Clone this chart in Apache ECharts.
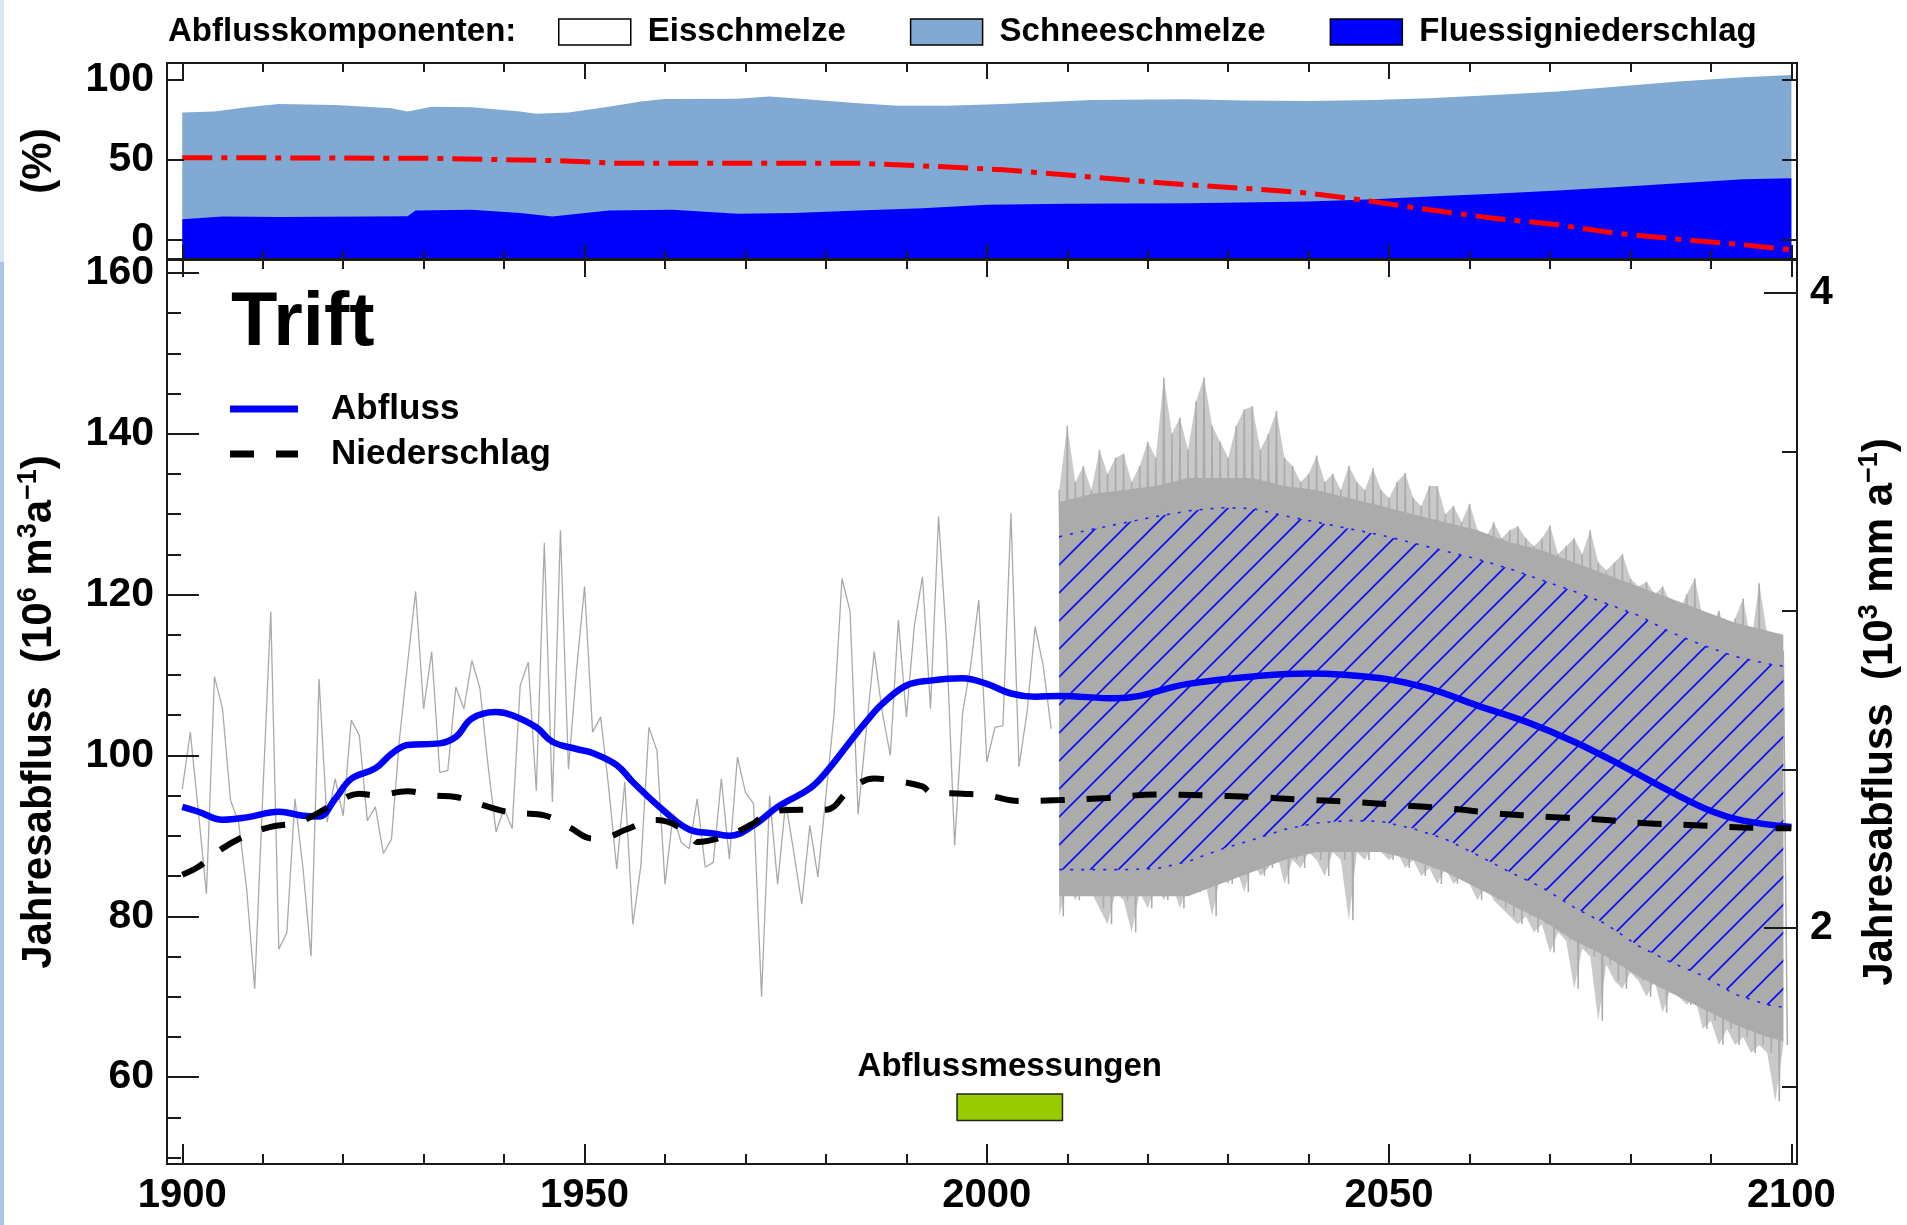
<!DOCTYPE html>
<html><head><meta charset="utf-8">
<script src="https://cdn.jsdelivr.net/npm/echarts@6/dist/echarts.min.js"></script>
<style>html,body{margin:0;padding:0;background:#fff}#c{width:1907px;height:1225px}</style>
</head><body><div id="c"></div><script>
// ---------------- DATA ----------------
const xTicksMinor = [1900,1910,1920,1930,1940,1950,1960,1970,1980,1990,2000,2010,2020,2030,2040,2050,2060,2070,2080,2090,2100];
const xTicksMajor = [1900,1950,2000,2050,2100];
const shareTicks = [0,50,100];
const leftTicksMajor = [60,80,100,120,140,160];
const leftTicksMinor = [50,55,60,65,70,75,80,85,90,95,100,105,110,115,120,125,130,135,140,145,150,155,160];
const rightTicksMajor = [2,4];
const rightTicksMinor = [1.5,2.5,3,3.5];

// top panel: runoff components (%)
const lightYears = [1900,1904,1908,1912,1919,1926,1928,1931,1936,1942,1944,1948,1953,1957,1960,1969,1973,1976,1984,1989,1995,2002,2013,2025,2032,2040,2048,2055,2063,2071,2078,2086,2094,2100];
const lightTop = [79.6,80.2,82.9,85,84.4,82.3,80.2,83.3,82.9,80.2,78.8,79.6,83.3,86.5,88.1,88.3,89.6,88.5,85.4,83.8,83.8,85,87.5,87.9,87.1,86.9,87.5,88.5,90.6,92.7,95.8,99,101.7,103.1];
const darkYears = [1900,1905,1912,1923,1928,1929,1936,1942,1946,1953,1961,1969,1976,1984,1992,2000,2010,2025,2040,2048,2055,2063,2071,2078,2086,2094,2100];
const darkTop = [12.9,14.6,14.2,14.6,14.8,18.3,18.8,16.7,14.6,18.3,18.8,16.3,16.7,18.3,19.8,21.9,22.5,22.9,24,25.4,27.1,28.75,30.8,32.9,35.4,37.9,38.5];
const redYears = [1900,1931,1946,1954,1984,1994,2002,2010,2017,2025,2033,2040,2048,2055,2063,2071,2078,2086,2094,2100];
const redShare = [51.4,51,49.6,47.9,47.9,45.8,43.8,40.6,37.5,34.4,31.9,29.2,24,18.75,13.5,9.4,4.2,0.4,-3.1,-6.25];

// main panel: annual runoff 1900-2008 (10^6 m3/a)
const histStart = 1900;
const histFlow = [
 95.8,102.9,93,82.8,109.8,105.8,94.4,91.7,83.4,71,
 95,117.9,75.9,78,94.6,86,75,109.5,91.7,97.1,
 92.5,104.4,102.5,91.9,93.6,87.8,89.6,102.1,111.4,120.4,
 105.8,112.9,97.9,98.1,108.5,105.8,111.8,108.3,98.8,90.5,
 93.4,90.9,108.7,111.6,95.6,126.4,94.2,128,98.3,110.6,
 121,102.9,104.8,96,85.9,96.7,79,86.3,103.5,100.6,
 84,92.7,89.2,88.4,94.6,86.1,86.7,97.1,87.1,99.8,
 95.4,94,70,95,84,94.2,88,81.5,91.3,84.9,
 95,105,122,117.9,92.7,103,112.9,105.4,100,116.8,
 104.8,116.2,122.2,105.8,129.7,114.1,88.8,105.4,111.2,119.3,
 99.2,103.5,103.7,130.1,98.6,105.4,116,111.2,103.3];

// scenario ensemble 2009-2099: annual extremes
const ensStart = 2009;
const ensUpper = [
 133,141,134,136,133,138,135,137,137.5,134,
 136,139,137,147,140,142,138,144,147,141,
 139,137,141,143,143.4,138,140,142.8,137,136,
 134,135,137.3,134,135,133,136,134,133,135.7,
 133,132,134,135.1,132,131,133.5,133.5,130,131,
 129,131.3,128,127,129,127,128,128.5,127,126,
 127,128.6,125,126,127,125,128,124,123,124,
 125,122,121,121.6,120,121,119,118,120,122,
 117,116,118,115,117,119.5,114,121.4,115,114,
 113];
const ensLower = [
 80,84,82,84,83,81,79,83,82,78,
 83,81,84,82,84,81,84,83,85,80,
 85,84,86,83,87,85,86,88,84,87,
 86,88,87,85,88,87,79.5,88,87,89,
 88,87,88,86,87,85,86,84,86,84,
 85,84,82,84,82,81,80,79,80,78,
 79,75.5,78,77,71,76,75,67,74,72,
 71,73,72,70,72,68,71,70,69,70,
 66,67,64,66,64,65,63,64,63,57,
 64];

// hatched uncertainty band + dense core of the ensemble
const hatchYears = [2009,2013,2017,2021,2025,2029,2033,2037,2041,2045,2049,2053,2057,2061,2065,2069,2073,2077,2081,2085,2089,2093,2097,2099];
const hatchUpper = [127.2,128.1,128.9,129.7,130.4,130.8,130.7,129.8,129.0,128.2,127.4,126.4,125.4,124.4,123.2,121.8,120.4,118.9,117.4,115.3,113.7,112.3,111.4,111.1];
const hatchLower = [85.8,85.8,85.8,85.9,86.8,88.3,89.5,90.8,91.6,91.9,91.8,90.9,89.6,87.6,85.5,83.6,81.1,79,76.3,74.3,72.6,70.3,69.0,68.7];
const denseUpper = [131.5,132.5,133,133.5,134.5,134.5,134.5,133.5,133,132,131,130,129,128,126.5,125.5,124,122.5,121,119.5,118,116.5,115.5,115];
const denseLower = [82.5,82.5,82.5,82.5,82.5,84,85.5,87,88,88,88,87,85.5,83.5,81.5,79.5,77,75,72.5,70.5,68.5,66.5,65,64.5];

// smoothed runoff (10^6 m3/a)
const flowYears = [1900,1902,1905,1908,1912,1915,1917,1919,1921,1924,1926,1928,1932,1934,1936,1939,1941,1944,1946,1949,1951,1954,1956,1960,1963,1966,1968,1971,1974,1978,1980,1983,1985,1987,1990,1993,1997,2000,2003,2006,2009,2016,2025,2034,2040,2049,2055,2061,2067,2073,2079,2085,2090,2094,2100];
const flowSmooth = [93.6,93,92,92.3,93,92.5,92.4,94.6,97.1,98.4,100.2,101.3,101.5,102.3,104.6,105.4,105,103.5,101.7,100.8,100.3,98.8,96.7,93,90.8,90.3,90,91.3,93.6,95.9,97.9,101.7,104.2,106.4,108.7,109.3,109.6,108.9,107.7,107.3,107.4,107.1,108.9,109.9,110.2,109.6,108.3,106.2,104.2,101.7,98.7,95.5,93.1,91.9,91.1];

// smoothed precipitation (10^3 mm/a)
const precYears = [1900,1902,1905,1908,1911,1914,1916,1919,1922,1924,1928,1931,1934,1936,1940,1942,1945,1948,1951,1953,1955,1959,1963,1964,1968,1971,1973,1977,1980,1983,1986,1988,1992,1993,1997,2000,2004,2009,2015,2021,2027,2033,2039,2045,2051,2058,2063,2070,2076,2082,2088,2094,2100];
const precSmooth = [2.168,2.193,2.251,2.292,2.319,2.330,2.350,2.393,2.423,2.418,2.431,2.418,2.413,2.398,2.368,2.362,2.355,2.319,2.282,2.287,2.309,2.340,2.299,2.271,2.294,2.330,2.365,2.373,2.373,2.436,2.471,2.466,2.446,2.428,2.423,2.418,2.400,2.403,2.410,2.421,2.418,2.413,2.405,2.398,2.388,2.375,2.362,2.350,2.342,2.330,2.324,2.317,2.314];

// measurement period
const measYears = [1996.3, 2009.4];
const measRange = [54.6, 57.9];

// ---------------- CHART ----------------
const FONT = '"Liberation Sans", Arial, Helvetica, sans-serif';
const XMIN = 1898.1, XMAX = 2100.7;
const AX = '#1a1a1a';
const GRAY = '#ababab';

function xAx(grid, pos, ticks, len, labels) {
  return {
    type: 'value', gridIndex: grid, position: pos, min: XMIN, max: XMAX, z: 10,
    axisLine: { show: true, onZero: false, lineStyle: { color: AX, width: 2 } },
    axisTick: { show: true, inside: true, length: len, customValues: ticks, lineStyle: { color: AX, width: 2 } },
    axisLabel: labels ? { show: true, customValues: labels, margin: 12, fontSize: 40, fontWeight: 'bold', color: '#000', fontFamily: FONT,
      formatter: function (v) { return String(Math.round(v)); } } : { show: false },
    splitLine: { show: false }
  };
}
function yAx(grid, pos, min, max, ticks, len, labels, extra) {
  return Object.assign({
    type: 'value', gridIndex: grid, position: pos, min: min, max: max, z: 10,
    axisLine: { show: true, onZero: false, lineStyle: { color: AX, width: 2 } },
    axisTick: { show: true, inside: true, length: len, customValues: ticks, lineStyle: { color: AX, width: 2 } },
    axisLabel: labels ? { show: true, customValues: labels, margin: 13, fontSize: 41, fontWeight: 'bold', color: '#000', fontFamily: FONT,
      formatter: function (v) { return String(v); } } : { show: false },
    splitLine: { show: false }
  }, extra || {});
}

function hatchCanvas() {
  const s = 28, c = document.createElement('canvas');
  c.width = s; c.height = s;
  const g = c.getContext('2d');
  g.strokeStyle = '#0a0aff'; g.lineWidth = 1.6;
  g.beginPath();
  g.moveTo(-2, s + 2); g.lineTo(s + 2, -2);
  g.moveTo(-2, 2); g.lineTo(2, -2);
  g.moveTo(s - 2, s + 2); g.lineTo(s + 2, s - 2);
  g.stroke();
  return c;
}
const hatch = hatchCanvas();

const nameRich = {
  t: { fontSize: 42, fontWeight: 'bold', fontFamily: FONT, color: '#000', lineHeight: 48 },
  s: { fontSize: 27, fontWeight: 'bold', fontFamily: FONT, color: '#000', verticalAlign: 'top', lineHeight: 20 }
};

const chart = echarts.init(document.getElementById('c'), null, { renderer: 'canvas' });
const pairs = (xs, ys) => xs.map((x, i) => [x, ys[i]]);
// zigzag through annual extremes of the ensemble (thin spikes)
const ensZigzag = [];
ensUpper.forEach((v, i) => { ensZigzag.push([ensStart + i, v]); ensZigzag.push([ensStart + i + 0.5, ensLower[i]]); });

function bandPolygon(xs, up, lo, style) {
  return function (params, api) {
    const pts = [];
    up.forEach((v, i) => pts.push(api.coord([xs[i], v])));
    for (let i = lo.length - 1; i >= 0; i--) pts.push(api.coord([xs[i], lo[i]]));
    return { type: 'polygon', shape: { points: pts }, style: style };
  };
}
const ensX = ensUpper.map((v, i) => ensStart + i);

chart.setOption({
  animation: false,
  backgroundColor: '#fff',
  textStyle: { fontFamily: FONT },
  graphic: [
    { type: 'rect', left: 0, top: 0, shape: { width: 4, height: 262 }, style: { fill: '#dbe5f2' }, silent: true },
    { type: 'rect', left: 0, top: 262, shape: { width: 4, height: 963 }, style: { fill: '#a9c4e4' }, silent: true }
  ],
  title: [
    { text: 'Abflusskomponenten:', left: 168, top: 15, padding: 0, textStyle: { fontSize: 33, fontWeight: 'bold', color: '#000', lineHeight: 34, fontFamily: FONT } },
    { text: 'Trift', left: 231, top: 286, padding: 0, textStyle: { fontSize: 76, fontWeight: 'bold', color: '#000', lineHeight: 76, fontFamily: FONT } }
  ],
  legend: [
    { left: 558, top: 15, padding: 0, itemWidth: 72, itemHeight: 26, itemGap: 64, selectedMode: false,
      textStyle: { fontSize: 33, fontWeight: 'bold', color: '#000', lineHeight: 34, padding: [0, 0, 0, 12], fontFamily: FONT },
      data: [
        { name: 'Eisschmelze', icon: 'rect', itemStyle: { color: '#ffffff', borderColor: '#000', borderWidth: 1.5 } },
        { name: 'Schneeschmelze', icon: 'rect', itemStyle: { color: '#80a9d3', borderColor: '#000', borderWidth: 1.5 } },
        { name: 'Fluessigniederschlag', icon: 'rect', itemStyle: { color: '#0000ff', borderColor: '#000', borderWidth: 1.5 } }
      ] },
    { left: 230, top: 391, padding: 0, orient: 'vertical', itemWidth: 68, itemHeight: 7, itemGap: 9, selectedMode: false,
      textStyle: { fontSize: 35, fontWeight: 'bold', color: '#000', lineHeight: 36, padding: [0, 0, 0, 28], fontFamily: FONT },
      data: [
        { name: 'Abfluss', icon: 'path://M0,0H68V7H0Z', itemStyle: { color: '#0000ff', borderWidth: 0 } },
        { name: 'Niederschlag', icon: 'path://M0,0H24V7H0Z M46,0H68V7H46Z', itemStyle: { color: '#000000', borderWidth: 0 } }
      ] }
  ],
  grid: [
    { left: 167, right: 110, top: 63, bottom: 966, containLabel: false, outerBoundsMode: 'none' },
    { left: 167, right: 110, top: 260, bottom: 61, containLabel: false, outerBoundsMode: 'none' }
  ],
  xAxis: [
    xAx(0, 'bottom', xTicksMinor, 8, null),
    xAx(0, 'bottom', xTicksMajor, 14, null),
    xAx(0, 'top', xTicksMinor, 9, null),
    xAx(0, 'top', xTicksMajor, 16, null),
    xAx(1, 'bottom', xTicksMinor, 10, null),
    xAx(1, 'bottom', xTicksMajor, 20, xTicksMajor),
    xAx(1, 'top', xTicksMinor, 9, null),
    xAx(1, 'top', xTicksMajor, 17, null)
  ],
  yAxis: [
    yAx(0, 'left', -12, 110.6, shareTicks, 17, shareTicks, {
      name: '(%)', nameLocation: 'middle', nameGap: 104, nameRotate: 90,
      nameTextStyle: { fontSize: 42, fontWeight: 'bold', color: '#000', lineHeight: 48, fontFamily: FONT } }),
    yAx(0, 'right', -12, 110.6, shareTicks, 15, null),
    yAx(1, 'left', 49.2, 161.6, leftTicksMajor, 32, leftTicksMajor, {
      name: '{t|Jahresabfluss  (10}{s|6}{t| m}{s|3}{t|a}{s|\u22121}{t|)}',
      nameLocation: 'middle', nameGap: 104, nameRotate: 90,
      nameTextStyle: { fontSize: 42, fontWeight: 'bold', color: '#000', lineHeight: 48, rich: nameRich } }),
    yAx(1, 'left', 49.2, 161.6, leftTicksMinor, 14, null),
    yAx(1, 'right', 1.257, 4.104, rightTicksMajor, 33, rightTicksMajor, {
      name: '{t|Jahresabfluss  (10}{s|3}{t| mm a}{s|\u22121}{t|)}',
      nameLocation: 'middle', nameGap: 59, nameRotate: 90,
      nameTextStyle: { fontSize: 42, fontWeight: 'bold', color: '#000', lineHeight: 48, rich: nameRich } }),
    yAx(1, 'right', 1.257, 4.104, rightTicksMinor, 15, null)
  ],
  series: [
    // ---- top panel ----
    { name: 'Schneeschmelze', type: 'line', xAxisIndex: 0, yAxisIndex: 0, symbol: 'none', silent: true,
      data: pairs(lightYears, lightTop), itemStyle: { color: '#80a9d3' },
      lineStyle: { width: 0, color: '#80a9d3' }, areaStyle: { origin: 'start', color: '#80a9d3', opacity: 1 } },
    { name: 'Fluessigniederschlag', type: 'line', xAxisIndex: 0, yAxisIndex: 0, symbol: 'none', silent: true,
      data: pairs(darkYears, darkTop), itemStyle: { color: '#0000ff' },
      lineStyle: { width: 0, color: '#0000ff' }, areaStyle: { origin: 'start', color: '#0000ff', opacity: 1 } },
    { name: 'Eisschmelze', type: 'line', xAxisIndex: 0, yAxisIndex: 0, symbol: 'none', silent: true,
      data: [], itemStyle: { color: '#ffffff' } },
    { name: 'Eisanteil', type: 'line', xAxisIndex: 0, yAxisIndex: 0, symbol: 'none', silent: true, z: 3,
      data: pairs(redYears, redShare), lineStyle: { color: '#ff0000', width: 5, type: [30, 9, 6, 9] } },
    // ---- main panel ----
    { name: 'EnsembleSaum', type: 'custom', xAxisIndex: 4, yAxisIndex: 2, silent: true, clip: true, z: 1,
      data: [[2050, 100]], renderItem: bandPolygon(ensX, ensUpper, ensLower, { fill: '#c9c9c9' }) },
    { name: 'EnsembleKern', type: 'custom', xAxisIndex: 4, yAxisIndex: 2, silent: true, clip: true, z: 1,
      data: [[2050, 100]], renderItem: bandPolygon(hatchYears, denseUpper, denseLower, { fill: GRAY }) },
    { name: 'EnsembleSpitzen', type: 'line', xAxisIndex: 4, yAxisIndex: 2, symbol: 'none', silent: true, z: 1,
      data: ensZigzag, lineStyle: { color: GRAY, width: 1.5 } },
    { name: 'Jahreswerte', type: 'line', xAxisIndex: 4, yAxisIndex: 2, symbol: 'none', silent: true, z: 2,
      data: histFlow.map((v, i) => [histStart + i, v]), lineStyle: { color: '#a9a9a9', width: 1.3 } },
    { name: 'Band', type: 'custom', xAxisIndex: 4, yAxisIndex: 2, silent: true, clip: true, z: 3,
      data: [[2050, 100]], renderItem: bandPolygon(hatchYears, hatchUpper, hatchLower, { fill: { image: hatch, repeat: 'repeat' } }) },
    { name: 'BandOben', type: 'line', xAxisIndex: 4, yAxisIndex: 2, symbol: 'none', silent: true, z: 4,
      data: pairs(hatchYears, hatchUpper), lineStyle: { color: '#1f1fff', width: 1.6, type: [3, 8] } },
    { name: 'BandUnten', type: 'line', xAxisIndex: 4, yAxisIndex: 2, symbol: 'none', silent: true, z: 4,
      data: pairs(hatchYears, hatchLower), lineStyle: { color: '#1f1fff', width: 1.6, type: [3, 8] } },
    { name: 'Abfluss', type: 'line', xAxisIndex: 4, yAxisIndex: 2, symbol: 'none', silent: true, smooth: 0.4, z: 5,
      data: pairs(flowYears, flowSmooth), itemStyle: { color: '#0000ff' }, lineStyle: { color: '#0000ff', width: 6.5 },
      markArea: { silent: true,
        itemStyle: { color: '#99cc00', borderColor: '#222', borderWidth: 1.5 },
        label: { show: true, position: 'top', distance: 10, formatter: 'Abflussmessungen', fontSize: 33, fontWeight: 'bold', color: '#000', fontFamily: FONT },
        data: [[{ coord: [measYears[0], measRange[1]] }, { coord: [measYears[1], measRange[0]] }]] } },
    { name: 'Niederschlag', type: 'line', xAxisIndex: 4, yAxisIndex: 4, symbol: 'none', silent: true, smooth: 0.4, z: 5,
      data: pairs(precYears, precSmooth), itemStyle: { color: '#000' }, lineStyle: { color: '#000', width: 6, type: [24, 22] } }
  ]
});
</script></body></html>
